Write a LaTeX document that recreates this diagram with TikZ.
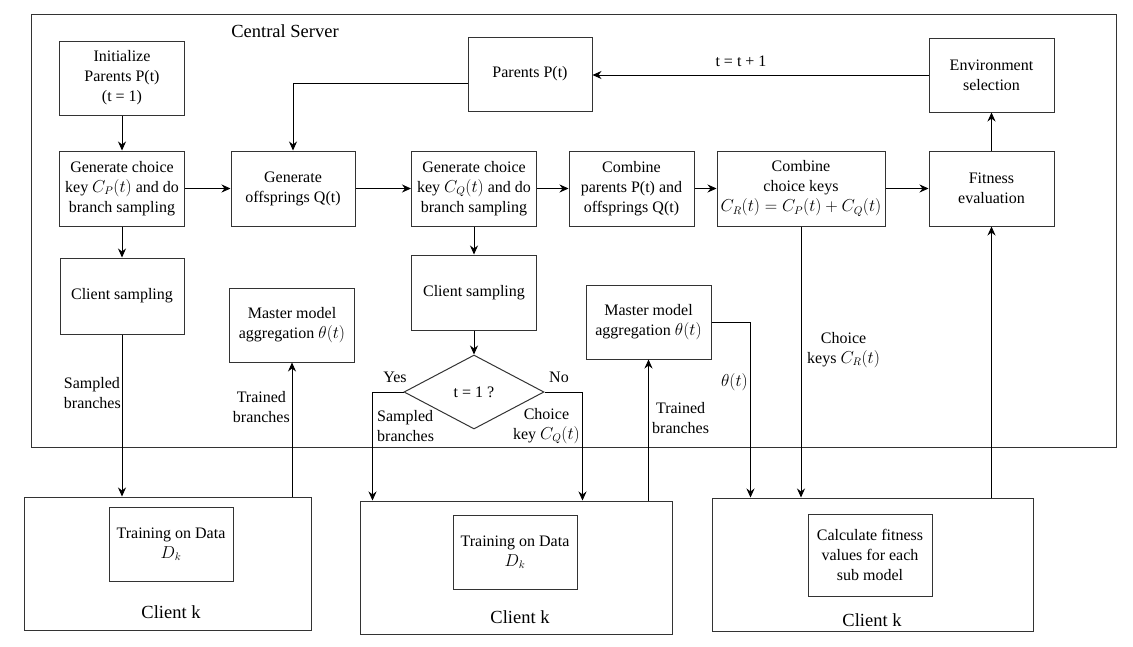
\documentclass[tikz,border=0pt]{standalone}
\usepackage{fontspec}
\setmainfont{Liberation Serif}
\usepackage{amsmath}
\usetikzlibrary{arrows.meta,positioning,shapes.geometric,calc}

\begin{document}
\begin{tikzpicture}[x=1pt,y=-1pt]
  % Define styles for boxes and links
  \tikzset{
    block/.style={
      draw=black!80,
      line width=1pt,
      rectangle,
      align=center,
      inner sep=1pt,
      font=\fontsize{16}{20}\selectfont
    },
    decision/.style={
      draw=black!80,
      line width=1pt,
      diamond,
      aspect=1.9,
      minimum width=140pt,
      minimum height=74pt,
      inner sep=0pt,
      font=\fontsize{16}{20}\selectfont
    },
    note/.style={align=center, inner sep=0pt, font=\fontsize{16}{20}\selectfont},
    heading/.style={inner sep=0pt, font=\fontsize{18.5}{22}\selectfont},
    link/.style={draw=black, line width=0.8pt, -{Stealth[length=9pt, width=8pt, inset=3pt]}},
    wire/.style={draw=black, line width=0.8pt}
  }
  \useasboundingbox (0,0) rectangle (1133,646);

  % Central server frame
  \node[block, minimum width=1085pt, minimum height=433pt] (server) at (573.5,230.5) {};
  \node[heading] (servername) at (285,31) {Central Server};

  % Top row
  \node[block, minimum width=125pt, minimum height=74pt] (init) at (122,78) {Initialize\\Parents P(t)\\(t = 1)};
  \node[block, minimum width=124pt, minimum height=74pt] (parents) at (530,74) {Parents P(t)};
  \node[block, minimum width=125pt, minimum height=74pt] (env) at (991.5,75) {Environment\\selection};

  % Second row
  \node[block, minimum width=125pt, minimum height=75pt] (gcp) at (122,188.5) {Generate choice\\key $C_P(t)$ and do\\branch sampling};
  \node[block, minimum width=124pt, minimum height=75pt] (goff) at (293,188.5) {Generate\\offsprings Q(t)};
  \node[block, minimum width=125pt, minimum height=75pt] (gcq) at (474,188.5) {Generate choice\\key $C_Q(t)$ and do\\branch sampling};
  \node[block, minimum width=125pt, minimum height=75pt] (combp) at (631.5,188.5) {Combine\\parents P(t) and\\offsprings Q(t)};
  \node[block, minimum width=168pt, minimum height=75pt] (combk) at (801,188.5) {Combine\\choice keys\\$C_R(t) = C_P(t) + C_Q(t)$};
  \node[block, minimum width=125pt, minimum height=75pt] (fit) at (991.5,188.5) {Fitness\\evaluation};

  % Third row
  \node[block, minimum width=124pt, minimum height=76pt] (cs1) at (122,296) {Client sampling};
  \node[block, minimum width=125pt, minimum height=74pt] (mm1) at (292,325) {Master model\\aggregation $\theta(t)$};
  \node[block, minimum width=125pt, minimum height=75pt] (cs2) at (474,292.5) {Client sampling};
  \node[decision] (dec) at (474,392) {t = 1 ?};
  \node[block, minimum width=125pt, minimum height=74pt] (mm2) at (648.5,322) {Master model\\aggregation $\theta(t)$};

  % Clients
  \node[block, minimum width=287pt, minimum height=133pt] (cl1) at (167.5,563.5) {};
  \node[block, minimum width=124pt, minimum height=74pt] (tr1) at (171,544) {Training on Data\\$D_k$};
  \node[heading] (cn1) at (171,612) {Client k};
  \node[block, minimum width=312pt, minimum height=133pt] (cl2) at (516,567.5) {};
  \node[block, minimum width=124pt, minimum height=74pt] (tr2) at (515,552) {Training on Data\\$D_k$};
  \node[heading] (cn2) at (520,617) {Client k};
  \node[block, minimum width=321pt, minimum height=133pt] (cl3) at (872.5,564.5) {};
  \node[block, minimum width=124pt, minimum height=82pt] (calc) at (870,555) {Calculate fitness\\values for each\\sub model};
  \node[heading] (cn3) at (872,620) {Client k};

  % Connect server boxes
  \draw[link] (init.south) -- (gcp.north);
  \draw[link] ([yshift=-9pt]parents.west) -| (goff.north);
  \draw[link] (env.west) -- (env.west -| parents.east);
  \node[note] (tinc) at (741,61) {t = t + 1};
  \draw[link] (gcp.east) -- (goff.west);
  \draw[link] (goff.east) -- (gcq.west);
  \draw[link] (gcq.east) -- (combp.west);
  \draw[link] (combp.east) -- (combk.west);
  \draw[link] (combk.east) -- (fit.west);
  \draw[link] (fit.north) -- (env.south);
  \draw[link] (gcp.south) -- (cs1.north);
  \draw[link] (gcq.south) -- (cs2.north);
  \draw[link] (cs2.south) -- (dec.north);

  % Links between server and clients
  \draw[link] (cs1.south) -- (cs1.south |- cl1.north);
  \node[note, align=left, anchor=east] (sb1) at (121,393) {Sampled\\branches};
  \draw[link] (cl1.north -| mm1.south) -- (mm1.south);
  \node[note, anchor=east] (tb1) at (290,407) {Trained\\branches};
  \draw[link] (dec.west) -| ([xshift=13pt]cl2.north west);
  \node[note] (yes) at (395,377) {Yes};
  \node[note, align=left, anchor=west] (sb2) at (377,426) {Sampled\\branches};
  \draw[link] (dec.east) -| ([xshift=-90pt]cl2.north east);
  \node[note] (no) at (559,377) {No};
  \node[note, anchor=east] (ck2) at (580,426) {Choice\\key $C_Q(t)$};
  \draw[link] (cl2.north -| mm2.south) -- (mm2.south);
  \node[note, anchor=west] (tb2) at (652,418) {Trained\\branches};
  \draw[link] (mm2.east) -| ([xshift=39pt]cl3.north west);
  \node[note, anchor=east] (th) at (748,382) {$\theta(t)$};
  \draw[link] (combk.south) -- (combk.south |- cl3.north);
  \node[note, anchor=west] (ckr) at (807,350) {Choice\\keys $C_R(t)$};
  \draw[link] (cl3.north -| fit.south) -- (fit.south);
\end{tikzpicture}
\end{document}
